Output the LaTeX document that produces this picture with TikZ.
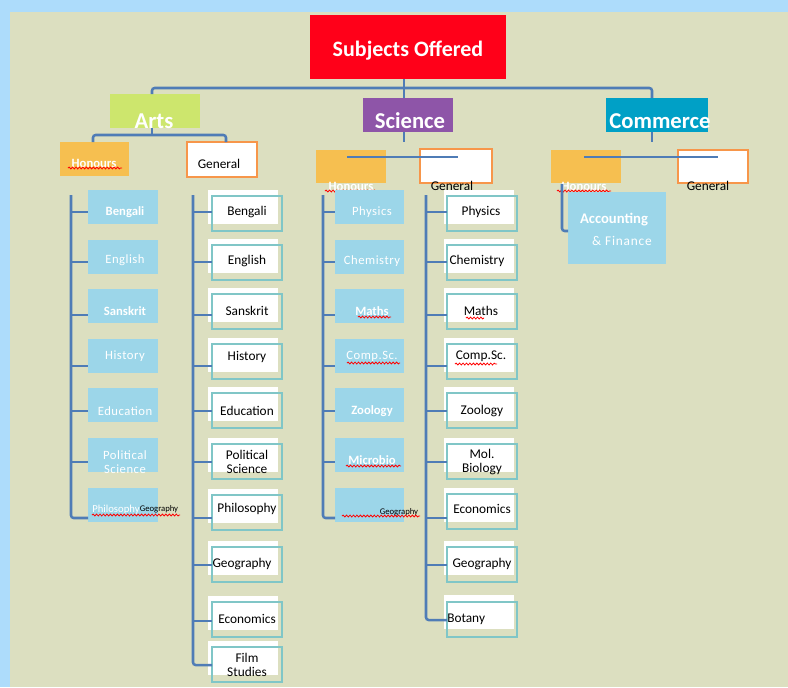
\documentclass[tikz,border=0pt]{standalone}
\usepackage{fontspec}
\setmainfont{Carlito}
\usetikzlibrary{decorations.pathmorphing}
\definecolor{bgblue}{HTML}{ADDCFB}
\definecolor{beige}{HTML}{DCDFC0}
\definecolor{redbox}{HTML}{FF0019}
\definecolor{artsgreen}{HTML}{CDE66D}
\definecolor{scipurple}{HTML}{8E55A8}
\definecolor{commteal}{HTML}{00A0C6}
\definecolor{honorange}{HTML}{F6BF50}
\definecolor{genorange}{HTML}{F7964A}
\definecolor{listblue}{HTML}{9CD6E9}
\definecolor{tealline}{HTML}{80C6C7}
\definecolor{lineblue}{HTML}{4F7CB6}
\newcommand\fs[2]{\fontsize{#1}{#2}\selectfont}
\begin{document}
\begin{tikzpicture}[x=0.75pt,y=-0.75pt,
  box/.style={rectangle, inner sep=0pt, outer sep=0pt, anchor=north west},
  sz/.style 2 args={minimum width=#1*0.75pt, minimum height=#2*0.75pt},
  conn/.style={draw=lineblue, line width=1.9pt},
  wavy/.style={draw=red, line width=0.6pt, decorate, decoration={snake, amplitude=0.7pt, segment length=2.6pt}},
  bigtxt/.style={text=white, font=\fs{17}{20}\bfseries, inner sep=0pt},
  htxt/.style={text=white, font=\fs{9.5}{11}\bfseries, inner sep=0pt, align=center},
  htxtm/.style={text=white, font=\fs{9.5}{11}\addfontfeature{LetterSpace=4}, inner sep=0pt, align=center},
  gtxt/.style={text=black, font=\fs{10}{11}, inner sep=0pt, align=center},
  listbox/.style={box, fill=listblue, sz={70}{34}},
  shadowbox/.style={box, fill=white, sz={70}{34}},
  outbox/.style={box, draw=tealline, line width=1.2pt, sz={70}{35}},
  honbox/.style={box, fill=honorange},
  genbox/.style={box, fill=white, draw=genorange, line width=1.4pt},
]
\useasboundingbox (0,0) rectangle (788,687);
\fill[bgblue] (0,0) rectangle (788,687);
\fill[beige] (10,12) rectangle (788,687);

% ---------- top level ----------
\node[box, fill=redbox, sz={196}{64}] (top) at (310,15) {};
\node[text=white, font=\fs{16.5}{19}\bfseries, inner sep=0pt] (topT) at (408,51) {Subjects Offered};

\node[box, fill=artsgreen, sz={90}{34}] (arts) at (110,94) {};
\node[bigtxt] (artsT) at (154,121) {Arts};
\node[box, fill=scipurple, sz={90}{34}] (sci) at (363,98) {};
\node[bigtxt] (sciT) at (410,121) {Science};
\node[box, fill=commteal, sz={102}{34}] (comm) at (606,98) {};
\node[bigtxt] (commT) at (660,121) {Commerce};

\coordinate (busL) at (152,88);
\coordinate (busM) at (404,88);
\coordinate (busR) at (652,88);
\draw[conn, rounded corners=2pt] (arts.north -| busL) -- (busL) -- (busR) -- (comm.north -| busR);
\draw[conn] (top.south -| busM) -- (sci.north -| busM);

% ---------- second level ----------
\node[honbox, sz={69}{34}] (ah) at (60,142) {};
\node[htxt] (ahT) at (94,163) {Honours};
\draw[wavy] (68,168) -- (122,168);
\node[genbox, sz={70}{35}] (ag) at (187,142) {};
\node[gtxt] (agT) at (219,164) {General};
\coordinate (artsBL) at (93,135);
\coordinate (artsBR) at (226,135);
\draw[conn, rounded corners=2pt] (ah.north -| artsBL) -- (artsBL) -- (artsBR) -- (ag.north -| artsBR);
\draw[conn] (arts.south -| busL) -- (busL |- artsBL);

\node[honbox, sz={70}{33}] (sh) at (316,150) {};
\node[genbox, sz={72}{34}] (sg) at (420,149) {};
\draw[conn] (sci.south -| busM) -- ++(0,10);
\coordinate (sciBarL) at (347,157);
\coordinate (sciBarR) at (458,157);
\draw[lineblue, line width=1.2pt] (sciBarL) -- (sciBarR);
\node[htxt] (shT) at (351,186) {Honours};
\draw[wavy] (325,191) -- (378,191);
\node[gtxt] (sgT) at (452,186) {General};

\node[honbox, sz={70}{33}] (ch) at (551,150) {};
\node[genbox, sz={70}{33}] (cg) at (678,150) {};
\draw[conn] (comm.south -| busR) -- ++(0,10);
\coordinate (comBarL) at (584,157);
\coordinate (comBarR) at (718,157);
\draw[lineblue, line width=1.2pt] (comBarL) -- (comBarR);
\node[htxt] (chT) at (584,186) {Honours};
\draw[wavy] (557,191) -- (611,191);
\node[gtxt] (cgT) at (708,186) {General};

% ---------- commerce honours ----------
\node[box, fill=listblue, sz={98}{72}] (acc) at (568,192) {};
\node[text=white, font=\fs{11}{13}\bfseries, inner sep=0pt] (accT1) at (614,220) {Accounting};
\node[text=white, font=\fs{10}{12}\addfontfeature{LetterSpace=6}, inner sep=0pt] (accT2) at (622,241) {\& Finance};
\coordinate (accTop) at (562,184);
\coordinate (accTick) at (568,231);
\draw[conn, rounded corners=2pt] (accTop) |- (accTick);

% ---------- arts honours list ----------
\coordinate (ahS) at (71,195);
\foreach \i/\t/\k/\y/\st/\s in {1/190/212/212/htxt/Bengali, 2/240/262/260/htxtm/English, 3/289/315/311/htxt/Sanskrit, 4/339/366/356/htxtm/History, 5/388/411/411/htxtm/Education, 6/438/462/462/htxtm/{Political\\Science}}{
  \node[listbox] (ahb\i) at (88,\t) {};
  \node[\st] (ahbT\i) at (125,\y) {\s};
  \coordinate (ahK\i) at (88,\k);
  \draw[conn] (ahK\i -| ahS) -- (ahK\i);
}
\node[listbox] (ahb7) at (88,488) {};
\coordinate (ahK7) at (88,518);
\draw[conn, rounded corners=2pt] (ahS) |- (ahK7);
\node[text=white, font=\fs{8}{9}, inner sep=0pt] (ahbT7) at (116,510) {Philosophy};
\node[text=black, font=\fs{6.5}{7}, inner sep=0pt] (ahbT7b) at (159,509) {Geography};
\draw[wavy] (92,515) -- (180,515);

% ---------- arts general list ----------
\coordinate (agS) at (193,195);
\foreach \i/\t/\k/\y/\x/\s in {1/196/212/212/247/Bengali, 2/245/262/261/247/English, 3/294/315/311/247/Sanskrit, 4/344/366/357/247/History, 5/393/411/411/247/Education, 6/444/462/462/247/{Political\\Science}, 7/495/518/509/247/Philosophy, 8/547/565/564/242/Geography, 9/602/621/619/247/Economics, 10/647/665/665/247/{Film\\Studies}}{
  \node[shadowbox] (agw\i) at (208,\t-6) {};
  \node[outbox] (agb\i) at (212,\t) {};
  \node[gtxt] (agbT\i) at (\x,\y) {\s};
  \coordinate (agK\i) at (212,\k);
}
\draw[conn, rounded corners=2pt] (agS) |- (agK10);
\foreach \i in {1,...,9}{ \draw[conn] (agK\i -| agS) -- (agK\i); }

% ---------- science honours list ----------
\coordinate (shS) at (323,195);
\foreach \i/\t/\k/\y/\st/\s in {1/190/212/212/htxtm/Physics, 2/240/262/261/htxtm/Chemistry, 3/289/315/311/htxt/Maths, 4/339/366/356/htxtm/Comp.Sc., 5/388/411/411/htxt/Zoology, 6/438/462/460/htxt/Microbio}{
  \node[listbox, sz={69}{34}] (shb\i) at (335,\t) {};
  \node[\st] (shbT\i) at (372,\y) {\s};
  \coordinate (shK\i) at (335,\k);
  \draw[conn] (shK\i -| shS) -- (shK\i);
}
\node[listbox, sz={69}{34}] (shb7) at (335,488) {};
\coordinate (shK7) at (335,518);
\draw[conn, rounded corners=2pt] (shS) |- (shK7);
\node[text=black, font=\fs{6.5}{7}, inner sep=0pt] (shbT7) at (399,512) {Geography};
\draw[wavy] (342,516) -- (420,516);
\draw[wavy] (358,317) -- (391,317);
\draw[wavy] (347,363) -- (400,363);
\draw[wavy] (346,466) -- (401,466);

% ---------- science general list ----------
\coordinate (sgS) at (426,195);
\foreach \i/\t/\k/\y/\x/\s in {1/196/212/212/481/Physics, 2/245/262/261/477/Chemistry, 3/294/315/311/481/Maths, 4/344/366/356/481/Comp.Sc., 5/393/411/411/482/Zoology, 6/444/462/462/482/{Mol.\\Biology}, 7/494/518/509/482/Economics, 8/547/565/564/482/Geography}{
  \node[shadowbox] (sgw\i) at (444,\t-6) {};
  \node[outbox] (sgb\i) at (447,\t) {};
  \node[gtxt] (sgbT\i) at (\x,\y) {\s};
  \coordinate (sgK\i) at (447,\k);
}
\node[shadowbox] (sgw9) at (444,595) {};
\node[outbox] (sgb9) at (447,602) {};
\node[gtxt, anchor=west] (sgbT9) at (447,619) {Botany};
\coordinate (sgK9) at (447,620);
\draw[conn, rounded corners=2pt] (sgS) |- (sgK9);
\foreach \i in {1,...,8}{ \draw[conn] (sgK\i -| sgS) -- (sgK\i); }
\draw[wavy] (466,318) -- (484,318);
\draw[wavy] (455,364) -- (497,364);
\end{tikzpicture}
\end{document}
